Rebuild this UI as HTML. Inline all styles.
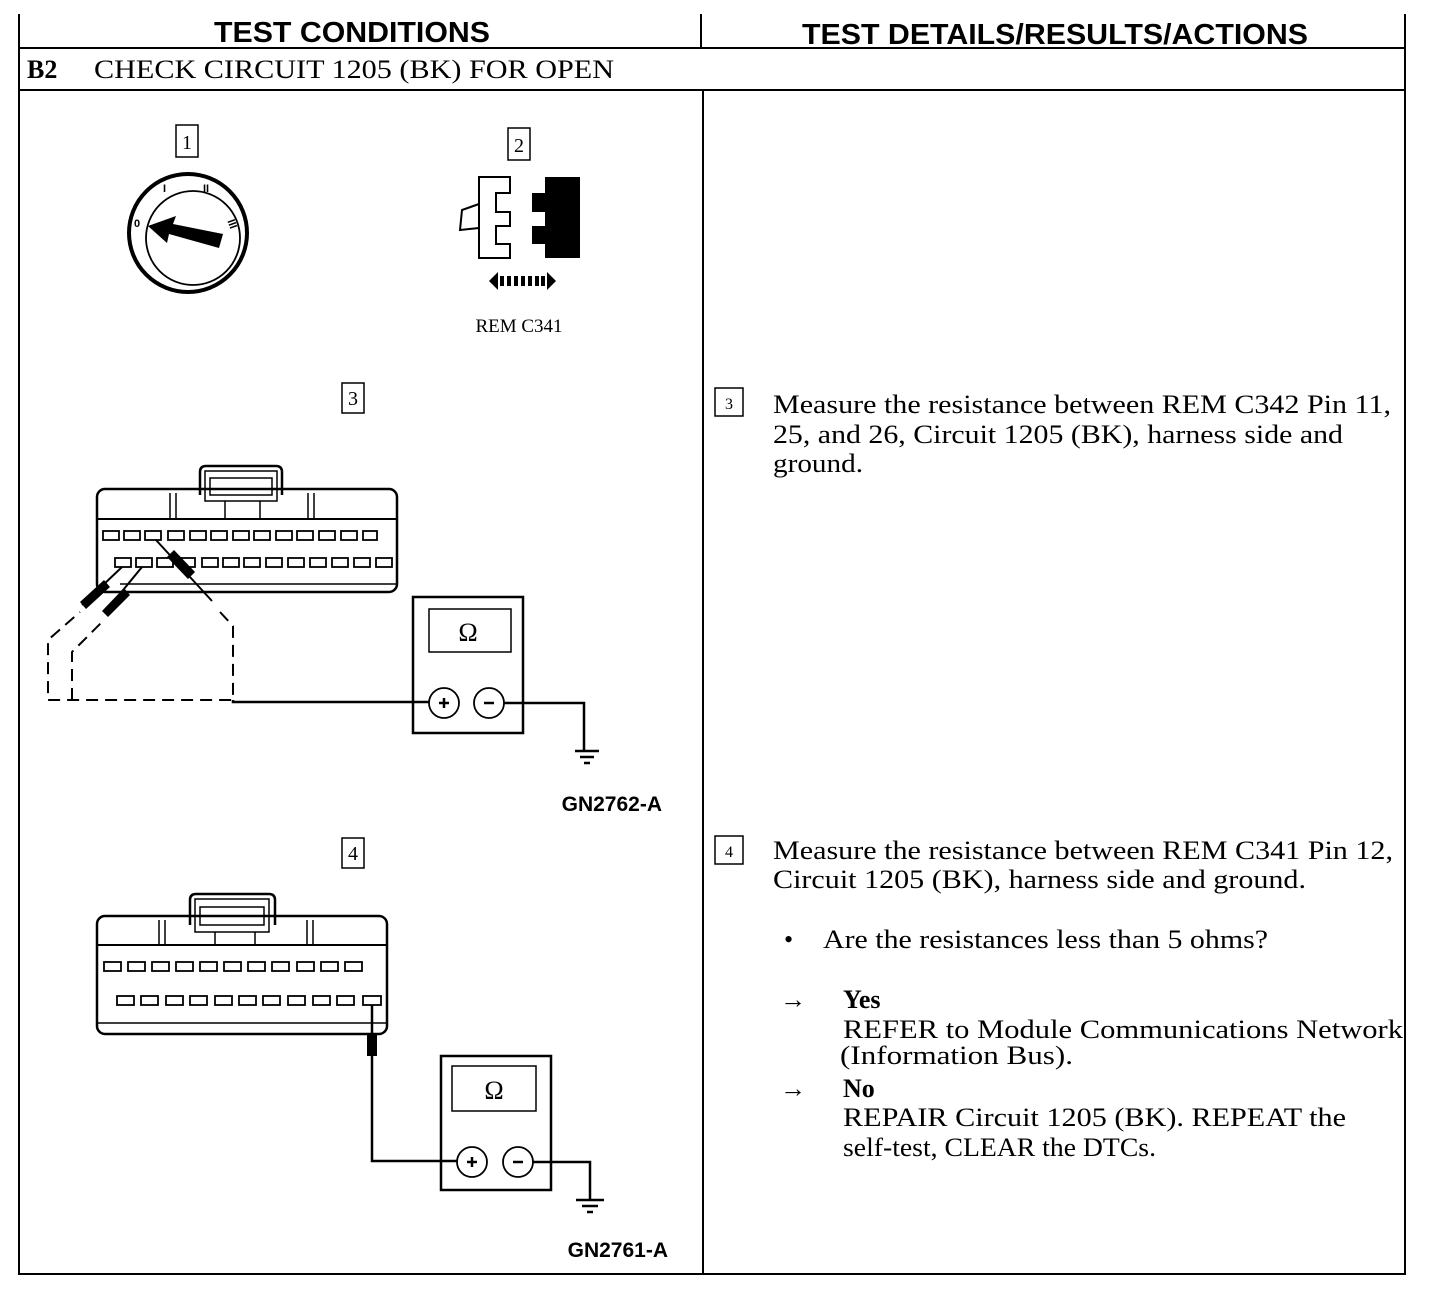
<!DOCTYPE html>
<html><head><meta charset="utf-8"><style>html,body{margin:0;padding:0;background:#fff}svg{display:block}</style></head>
<body>
<svg width="1440" height="1296" viewBox="0 0 1440 1296" xmlns="http://www.w3.org/2000/svg" font-family="Liberation Serif, serif">
<g stroke="#000" fill="none" stroke-width="2">
<line x1="19" y1="14" x2="19" y2="1275"/>
<line x1="1405" y1="14" x2="1405" y2="1275"/>
<line x1="19" y1="1274" x2="1405" y2="1274"/>
<line x1="19" y1="48" x2="1405" y2="48"/>
<line x1="19" y1="90" x2="1405" y2="90"/>
<line x1="701" y1="14" x2="701" y2="48"/>
<line x1="703" y1="90" x2="703" y2="1274"/>
</g>
<text x="352" y="42" font-family="Liberation Sans, sans-serif" font-weight="bold" font-size="29" text-anchor="middle" textLength="276" lengthAdjust="spacingAndGlyphs">TEST CONDITIONS</text>
<text x="1055" y="44" font-family="Liberation Sans, sans-serif" font-weight="bold" font-size="29" text-anchor="middle" textLength="506" lengthAdjust="spacingAndGlyphs">TEST DETAILS/RESULTS/ACTIONS</text>
<text x="27" y="78" font-size="26" font-weight="bold">B2</text>
<text x="94" y="78" font-size="26" textLength="520" lengthAdjust="spacingAndGlyphs">CHECK CIRCUIT 1205 (BK) FOR OPEN</text>

<g stroke="#000" fill="none" stroke-width="1.5">
<rect x="176" y="125" width="22" height="32"/>
<rect x="508" y="128" width="22" height="32"/>
<rect x="342" y="383" width="22" height="30"/>
<rect x="342" y="838" width="22" height="30"/>
<rect x="715" y="388" width="28" height="28"/>
<rect x="715" y="836" width="28" height="28"/>
</g>
<g font-size="20" text-anchor="middle">
<text x="187" y="149">1</text><text x="519" y="152">2</text><text x="353" y="405">3</text><text x="353" y="860">4</text>
<text x="729" y="409" font-size="16">3</text><text x="729" y="857" font-size="16">4</text>
</g>

<g stroke="#000" fill="none">
<circle cx="188" cy="233" r="59" stroke-width="4"/>
<circle cx="193" cy="238" r="47" stroke-width="1.8"/>
</g>
<polygon points="148,226 176,216 173,224 223,234 219,248 169,234 167,243" fill="#000"/>
<g font-size="11" font-family="Liberation Sans, sans-serif" font-weight="bold">
<text x="134" y="227">0</text><text x="163" y="192">I</text><text x="203" y="192">II</text><text x="230" y="227" transform="rotate(70 233 222)">III</text>
</g>

<g stroke="#000" stroke-width="2" fill="none">
<path d="M479,177 H510 V193 H496 V212 H510 V226 H496 V244 H510 V258 H479 Z"/>
<path d="M479,204 L462,210 L460,230 L479,228"/>
</g>
<path d="M545,177 H580 V258 H545 V244 H532 V226 H545 V212 H532 V193 H545 Z" fill="#000"/>
<polygon points="489,281 498,272 498,290" fill="#000"/>
<polygon points="556,281 547,272 547,290" fill="#000"/>
<g fill="#000"><rect x="500" y="276" width="4" height="10"/><rect x="507" y="276" width="4" height="10"/><rect x="514" y="276" width="4" height="10"/><rect x="521" y="276" width="4" height="10"/><rect x="528" y="276" width="4" height="10"/><rect x="535" y="276" width="4" height="10"/><rect x="541" y="276" width="4" height="10"/></g>
<text x="519" y="332" font-size="19" text-anchor="middle">REM C341</text>

<g stroke="#000" stroke-width="2.5" fill="none">
<rect x="97" y="489" width="300" height="103" rx="8"/>
<path d="M200,495 V472 Q200,466 206,466 H276 Q282,466 282,472 V495"/>
<rect x="205" y="471" width="72" height="30" stroke-width="1.5"/>
<rect x="210" y="478" width="62" height="17" stroke-width="1.5"/>
<line x1="97" y1="519" x2="397" y2="519" stroke-width="2"/>
<line x1="120" y1="584" x2="397" y2="584" stroke-width="1.5"/>
<line x1="170" y1="493" x2="170" y2="519" stroke-width="1.5"/><line x1="176" y1="493" x2="176" y2="519" stroke-width="1.5"/>
<line x1="225" y1="501" x2="225" y2="519" stroke-width="1.5"/><line x1="260" y1="501" x2="260" y2="519" stroke-width="1.5"/>
<line x1="308" y1="493" x2="308" y2="519" stroke-width="1.5"/><line x1="314" y1="493" x2="314" y2="519" stroke-width="1.5"/>
</g>
<g stroke="#000" stroke-width="1.8" fill="none">
<rect x="103" y="531" width="16" height="9"/><rect x="124" y="531" width="16" height="9"/><rect x="145" y="531" width="16" height="9"/><rect x="168" y="531" width="16" height="9"/><rect x="190" y="531" width="16" height="9"/><rect x="211" y="531" width="16" height="9"/><rect x="233" y="531" width="16" height="9"/><rect x="254" y="531" width="16" height="9"/><rect x="276" y="531" width="16" height="9"/><rect x="297" y="531" width="16" height="9"/><rect x="319" y="531" width="16" height="9"/><rect x="341" y="531" width="16" height="9"/><rect x="363" y="531" width="14" height="9"/>
<rect x="115" y="558" width="16" height="9"/><rect x="136" y="558" width="16" height="9"/><rect x="157" y="558" width="16" height="9"/><rect x="179" y="558" width="16" height="9"/><rect x="202" y="558" width="16" height="9"/><rect x="223" y="558" width="16" height="9"/><rect x="244" y="558" width="16" height="9"/><rect x="266" y="558" width="16" height="9"/><rect x="288" y="558" width="16" height="9"/><rect x="310" y="558" width="16" height="9"/><rect x="332" y="558" width="16" height="9"/><rect x="354" y="558" width="16" height="9"/><rect x="376" y="558" width="16" height="9"/>
</g>
<g stroke="#000" stroke-width="2">
<line x1="156" y1="540" x2="212" y2="601"/>
<line x1="122" y1="567" x2="82" y2="605"/>
<line x1="142" y1="567" x2="105" y2="612"/>
</g>
<g fill="#000">
<polygon points="167,557 174,550 195,572 188,579"/>
<polygon points="80,602 104,580 110,587 86,609"/>
<polygon points="102,611 124,588 130,595 108,617"/>
</g>
<g stroke="#000" stroke-width="2" fill="none" stroke-dasharray="12,7">
<path d="M220,612 L233,626 V700 H48 V640 L80,612"/>
<path d="M72,700 V652 L104,620"/>
</g>
<g stroke="#000" stroke-width="2.5" fill="none">
<path d="M233,700 V702 H429"/>
<rect x="413" y="597" width="110" height="136"/>
<rect x="429" y="609" width="82" height="43" stroke-width="1.5"/>
<circle cx="444" cy="703" r="15" stroke-width="1.8"/>
<circle cx="489" cy="703" r="15" stroke-width="1.8"/>
<path d="M504,703 H584 V751"/>
<line x1="575" y1="751" x2="599" y2="751"/><line x1="580" y1="757" x2="594" y2="757"/><line x1="584" y1="763" x2="590" y2="763"/>
</g>
<text x="468" y="641" font-size="26" text-anchor="middle">Ω</text>
<g stroke="#000" stroke-width="2.5"><line x1="439" y1="703" x2="449" y2="703"/><line x1="444" y1="698" x2="444" y2="708"/><line x1="484" y1="703" x2="494" y2="703"/></g>
<text x="662" y="811" font-family="Liberation Sans, sans-serif" font-weight="bold" font-size="21" text-anchor="end">GN2762-A</text>

<g stroke="#000" stroke-width="2.5" fill="none">
<rect x="97" y="916" width="290" height="118" rx="8"/>
<path d="M190,925 V900 Q190,894 196,894 H269 Q275,894 275,900 V925"/>
<rect x="195" y="899" width="74" height="33" stroke-width="1.5"/>
<rect x="200" y="907" width="64" height="18" stroke-width="1.5"/>
<line x1="97" y1="945" x2="387" y2="945" stroke-width="2"/>
<line x1="97" y1="1023" x2="387" y2="1023" stroke-width="1.5"/>
<line x1="159" y1="920" x2="159" y2="945" stroke-width="1.5"/><line x1="165" y1="920" x2="165" y2="945" stroke-width="1.5"/>
<line x1="215" y1="932" x2="215" y2="945" stroke-width="1.5"/><line x1="255" y1="932" x2="255" y2="945" stroke-width="1.5"/>
<line x1="307" y1="920" x2="307" y2="945" stroke-width="1.5"/><line x1="313" y1="920" x2="313" y2="945" stroke-width="1.5"/>
</g>
<g stroke="#000" stroke-width="1.8" fill="none">
<rect x="104" y="962" width="17" height="9"/><rect x="128" y="962" width="17" height="9"/><rect x="152" y="962" width="17" height="9"/><rect x="176" y="962" width="17" height="9"/><rect x="200" y="962" width="17" height="9"/><rect x="224" y="962" width="17" height="9"/><rect x="248" y="962" width="17" height="9"/><rect x="272" y="962" width="17" height="9"/><rect x="297" y="962" width="17" height="9"/><rect x="321" y="962" width="17" height="9"/><rect x="345" y="962" width="17" height="9"/>
<rect x="117" y="996" width="17" height="9"/><rect x="141" y="996" width="17" height="9"/><rect x="166" y="996" width="17" height="9"/><rect x="190" y="996" width="17" height="9"/><rect x="215" y="996" width="17" height="9"/><rect x="239" y="996" width="17" height="9"/><rect x="263" y="996" width="17" height="9"/><rect x="288" y="996" width="17" height="9"/><rect x="313" y="996" width="17" height="9"/><rect x="337" y="996" width="17" height="9"/><rect x="363" y="996" width="18" height="9"/>
</g>
<rect x="367" y="1034" width="10" height="22" fill="#000"/>
<g stroke="#000" stroke-width="2.5" fill="none">
<path d="M372,1005 V1161 H457"/>
<rect x="441" y="1056" width="110" height="134"/>
<rect x="452" y="1066" width="84" height="45" stroke-width="1.5"/>
<circle cx="472" cy="1162" r="15" stroke-width="1.8"/>
<circle cx="518" cy="1162" r="15" stroke-width="1.8"/>
<path d="M533,1162 H590 V1200"/>
<line x1="576" y1="1200" x2="604" y2="1200"/><line x1="582" y1="1206" x2="598" y2="1206"/><line x1="587" y1="1212" x2="593" y2="1212"/>
</g>
<text x="494" y="1099" font-size="26" text-anchor="middle">Ω</text>
<g stroke="#000" stroke-width="2.5"><line x1="467" y1="1162" x2="477" y2="1162"/><line x1="472" y1="1157" x2="472" y2="1167"/><line x1="513" y1="1162" x2="523" y2="1162"/></g>
<text x="668" y="1257" font-family="Liberation Sans, sans-serif" font-weight="bold" font-size="21" text-anchor="end">GN2761-A</text>

<g font-size="26">
<text x="773" y="413" textLength="618" lengthAdjust="spacingAndGlyphs">Measure the resistance between REM C342 Pin 11,</text>
<text x="773" y="443" textLength="570" lengthAdjust="spacingAndGlyphs">25, and 26, Circuit 1205 (BK), harness side and</text>
<text x="773" y="472" textLength="90" lengthAdjust="spacingAndGlyphs">ground.</text>
<text x="773" y="859" textLength="620" lengthAdjust="spacingAndGlyphs">Measure the resistance between REM C341 Pin 12,</text>
<text x="773" y="888" textLength="533" lengthAdjust="spacingAndGlyphs">Circuit 1205 (BK), harness side and ground.</text>
<text x="784" y="948">•</text>
<text x="823" y="948" textLength="445" lengthAdjust="spacingAndGlyphs">Are the resistances less than 5 ohms?</text>
<text x="780" y="1008">→</text>
<text x="843" y="1008" font-weight="bold">Yes</text>
<text x="843" y="1038" textLength="560" lengthAdjust="spacingAndGlyphs">REFER to Module Communications Network</text>
<text x="840" y="1064" textLength="233" lengthAdjust="spacingAndGlyphs">(Information Bus).</text>
<text x="780" y="1097">→</text>
<text x="843" y="1097" font-weight="bold">No</text>
<text x="843" y="1126" textLength="503" lengthAdjust="spacingAndGlyphs">REPAIR Circuit 1205 (BK). REPEAT the</text>
<text x="843" y="1156" textLength="313" lengthAdjust="spacingAndGlyphs">self-test, CLEAR the DTCs.</text>
</g>
</svg>
</body></html>
